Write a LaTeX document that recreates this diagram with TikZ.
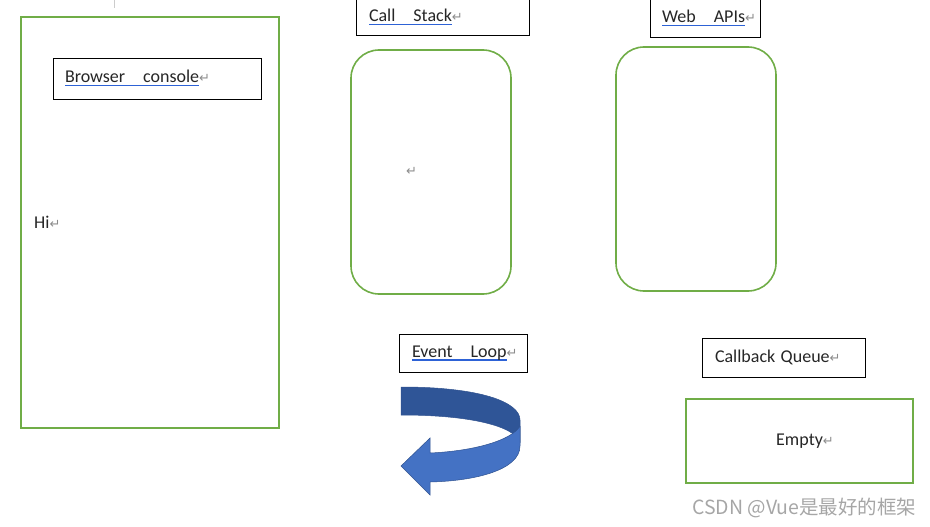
\documentclass[tikz,border=0pt]{standalone}
\usepackage{fontspec}
\setmainfont{Carlito}
\newfontfamily\symfont{DejaVu Sans}
\newfontfamily\cjkfont{Noto Sans CJK SC}
\usetikzlibrary{positioning}
\definecolor{wdgreen}{HTML}{70AD47}
\definecolor{ulblue}{HTML}{2D62D6}
\definecolor{markgrey}{gray}{0.55}
\definecolor{arrowdark}{HTML}{2F5597}
\definecolor{arrowlight}{HTML}{4472C4}
\definecolor{arrowline}{HTML}{2F528F}
\newcommand\blueul[1]{\setbox0\hbox{#1}\rlap{\color{ulblue}\rule[-3.5pt]{\wd0}{1.2pt}}\box0}
\newcommand\pmark{{\symfont\color{markgrey}\fontsize{13}{14}\selectfont ↵}}
\tikzset{
  doc/.style={x=1pt,y=-1pt,font=\fontsize{18}{20}\selectfont,text=black!85},
  lblbox/.style={draw=black,line width=0.8pt,align=left,inner ysep=0pt,anchor=center},
  greenbox/.style={draw=wdgreen,line width=1.6pt,anchor=center},
  greenround/.style={greenbox,rounded corners=28pt},
  txt/.style={inner sep=0pt,anchor=west},
}
\begin{document}
\begin{tikzpicture}[doc]
\useasboundingbox (0,0) rectangle (930,527);
\draw[gray!40,line width=0.8pt] (114,0) -- (114,8);

% browser console
\node[greenbox,minimum width=258pt,minimum height=411pt] (console) at (150,222.5) {};
\node[lblbox,minimum height=41pt,text width=184pt,inner xsep=12pt] (bclabel) at (157,78.5)
  {\blueul{Browser\hspace{1em}console}\pmark};
\node[txt] (hi) at (34,222) {Hi\pmark};

% call stack
\node[lblbox,minimum height=36pt,text width=147pt,inner xsep=13pt] (cslabel) at (442.5,17)
  {\blueul{Call\hspace{1em}Stack}\pmark};
\node[greenround,minimum width=160pt,minimum height=244pt] (stack) at (431,172) {};
\node[txt] (csmark) at (406,171) {\pmark};

% web apis
\node[lblbox,minimum height=38pt,text width=86pt,inner xsep=12pt] (walabel) at (705,18)
  {\blueul{Web\hspace{1em}APIs}\pmark};
\node[greenround,minimum width=160pt,minimum height=244pt] (webapi) at (696,169) {};

% event loop
\node[lblbox,minimum height=38pt,text width=102pt,inner xsep=13pt] (ellabel) at (463,353)
  {\blueul{Event\hspace{1em}Loop}\pmark};
\fill[arrowdark,draw=arrowline,line width=0.5pt] (401,387)
  .. controls (480,387) and (520,402) .. (520,420) -- (520,442)
  .. controls (514,426) and (470,415) .. (401,415) -- cycle;
\fill[arrowlight,draw=arrowline,line width=0.5pt] (520,426) -- (520,446)
  .. controls (520,470) and (475,481) .. (430,482) -- (430,495) -- (401,466)
  -- (430,438) -- (430,453) .. controls (475,451) and (512,440) .. (520,426);

% callback queue
\node[lblbox,minimum height=39pt,text width=137pt,inner xsep=13pt] (cqlabel) at (783.5,357.5)
  {Callback\hspace{0.3em}Queue\pmark};
\node[greenbox,minimum width=227pt,minimum height=84pt] (queue) at (799.5,441) {};
\node[txt] (empty) at (776,441) {Empty\pmark};

\node[txt,text=gray!70,font=\cjkfont\fontsize{19.5}{21}\selectfont] (mark) at (692,508)
  {CSDN @Vue是最好的框架};
\end{tikzpicture}
\end{document}
